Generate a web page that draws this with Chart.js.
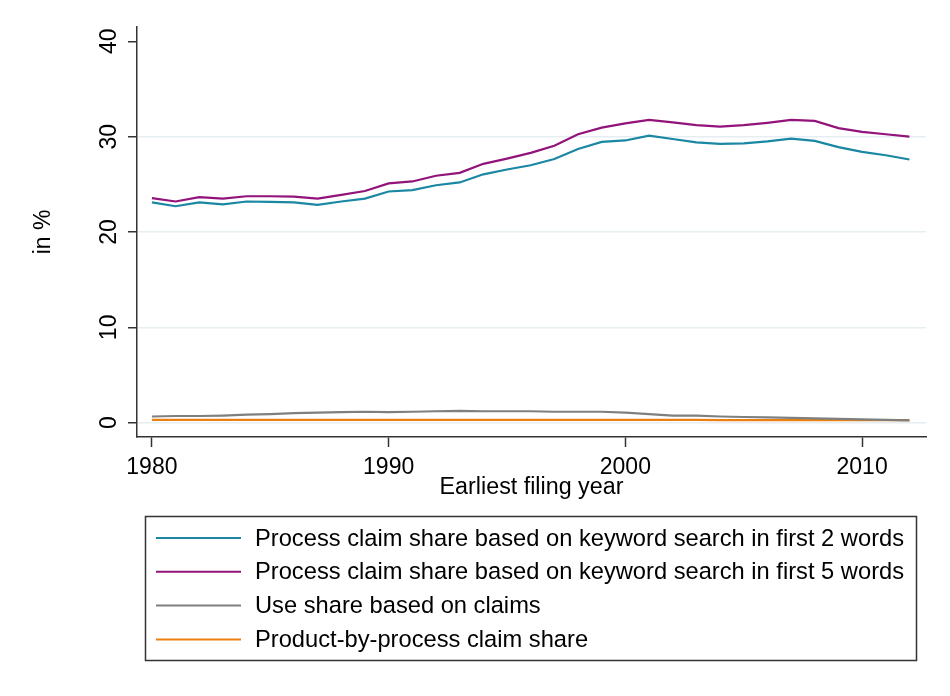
<!DOCTYPE html>
<html>
<head>
<meta charset="utf-8">
<script src="https://cdn.jsdelivr.net/npm/chart.js@4/dist/chart.umd.min.js"></script>
<style>
  html, body { margin: 0; padding: 0; background: #fff; }
  #wrap { width: 950px; height: 696px; }
</style>
</head>
<body>
<div id="wrap"><canvas id="chart" width="950" height="696"></canvas></div>
<script>
const years = [1980, 1981, 1982, 1983, 1984, 1985, 1986, 1987, 1988, 1989, 1990, 1991, 1992, 1993, 1994, 1995, 1996,
  1997, 1998, 1999, 2000, 2001, 2002, 2003, 2004, 2005, 2006, 2007, 2008, 2009, 2010, 2011, 2012];

const process2Words = [23.1, 22.7, 23.1, 22.9, 23.2, 23.15, 23.1, 22.85, 23.2, 23.5, 24.25, 24.4, 24.9, 25.2, 26.05, 26.55, 27.0,
  27.65, 28.7, 29.45, 29.6, 30.1, 29.75, 29.4, 29.25, 29.3, 29.5, 29.8, 29.55, 28.9, 28.4, 28.05, 27.6];
const process5Words = [23.55, 23.2, 23.65, 23.5, 23.75, 23.75, 23.7, 23.5, 23.9, 24.3, 25.1, 25.3, 25.9, 26.2, 27.15, 27.7, 28.3,
  29.05, 30.25, 30.95, 31.4, 31.75, 31.5, 31.2, 31.05, 31.2, 31.45, 31.75, 31.65, 30.9, 30.5, 30.25, 30.0];
const useShare = [0.65, 0.7, 0.7, 0.75, 0.85, 0.9, 1.0, 1.05, 1.1, 1.15, 1.1, 1.15, 1.2, 1.25, 1.2, 1.2, 1.2,
  1.15, 1.15, 1.15, 1.05, 0.9, 0.75, 0.75, 0.65, 0.6, 0.55, 0.5, 0.45, 0.4, 0.35, 0.3, 0.25];
const productByProcess = [0.3, 0.3, 0.3, 0.3, 0.3, 0.3, 0.3, 0.3, 0.3, 0.3, 0.3, 0.3, 0.3, 0.3, 0.3, 0.3, 0.3,
  0.3, 0.3, 0.3, 0.3, 0.3, 0.3, 0.3, 0.28, 0.28, 0.28, 0.28, 0.28, 0.28, 0.28, 0.28, 0.28];

const seriesLabels = [
  'Process claim share based on keyword search in first 2 words',
  'Process claim share based on keyword search in first 5 words',
  'Use share based on claims',
  'Product-by-process claim share',
];
const seriesColors = ['#1a87a3', '#92137a', '#7f7f7f', '#ea8010'];

const xTicks = [1980, 1990, 2000, 2010];
const yTicks = [0, 10, 20, 30, 40];

const FONT = 'Arial, "Liberation Sans", sans-serif';
const AXIS = '#333333';
const GRID = '#e6eef1';

const pts = (vals) => years.map((y, i) => ({ x: y, y: vals[i] }));

// y tick labels (rotated) and the boxed legend, Stata style
const stataExtras = {
  id: 'stataExtras',
  afterDraw(chart) {
    const ctx = chart.ctx;
    const ys = chart.scales.y;
    ctx.save();
    ctx.fillStyle = '#000';
    ctx.font = '23px ' + FONT;
    ctx.textAlign = 'center';
    ctx.textBaseline = 'middle';
    ys.ticks.forEach((t) => {
      const py = ys.getPixelForValue(t.value);
      ctx.save();
      ctx.translate(110, py);
      ctx.rotate(-Math.PI / 2);
      ctx.fillText(String(t.value), 0, 0);
      ctx.restore();
    });
    ctx.restore();

    // legend
    ctx.save();
    ctx.strokeStyle = AXIS;
    ctx.lineWidth = 1.5;
    ctx.strokeRect(145.5, 516.5, 771, 144);
    ctx.font = '23.7px ' + FONT;
    ctx.textBaseline = 'middle';
    ctx.textAlign = 'left';
    chart.data.datasets.forEach((ds, i) => {
      const ly = 538 + i * 33.8;
      ctx.strokeStyle = ds.borderColor;
      ctx.lineWidth = 2;
      ctx.beginPath();
      ctx.moveTo(156, ly);
      ctx.lineTo(241, ly);
      ctx.stroke();
      ctx.fillStyle = '#000';
      ctx.fillText(ds.label, 255, ly + 1);
    });
    ctx.restore();
  },
};

new Chart(document.getElementById('chart'), {
  type: 'line',
  data: {
    datasets: seriesLabels.map((label, i) => ({
      label,
      data: pts([process2Words, process5Words, useShare, productByProcess][i]),
      borderColor: seriesColors[i],
      backgroundColor: seriesColors[i],
      borderWidth: 2.2,
      pointRadius: 0,
      tension: 0,
      fill: false,
    })),
  },
  options: {
    responsive: false,
    animation: false,
    layout: { padding: { left: 0, right: 24, top: 27, bottom: 194 } },
    plugins: {
      legend: { display: false },
      tooltip: { enabled: false },
    },
    scales: {
      x: {
        type: 'linear',
        min: 1979.37,
        max: 2012.7,
        afterBuildTicks: (scale) => { scale.ticks = xTicks.map((v) => ({ value: v })); },
        afterFit: (scale) => { scale.height = 65; },
        border: { color: AXIS, width: 1.5 },
        grid: { drawOnChartArea: false, drawTicks: true, tickLength: 10, tickColor: AXIS, tickWidth: 1.5 },
        ticks: {
          color: '#000',
          font: { family: FONT, size: 23 },
          padding: 7,
          maxRotation: 0,
          callback: (v) => String(v),
        },
        title: {
          display: true,
          text: 'Earliest filing year',
          color: '#000',
          font: { family: FONT, size: 23.3 },
          padding: { top: 0, bottom: 0 },
        },
      },
      y: {
        min: -1.5,
        max: 41.5,
        afterBuildTicks: (scale) => { scale.ticks = yTicks.map((v) => ({ value: v })); },
        afterFit: (scale) => { scale.width = 137; },
        border: { color: AXIS, width: 1.5 },
        grid: {
          color: (c) => (c.tick && c.tick.value === 40 ? 'rgba(0,0,0,0)' : GRID),
          lineWidth: 1.5,
          drawTicks: true,
          tickLength: 9,
          tickColor: AXIS,
          tickWidth: 1.5,
        },
        ticks: { display: false },
        title: {
          display: true,
          text: 'in %',
          color: '#000',
          font: { family: FONT, size: 23 },
          padding: { top: 30, bottom: 0 },
        },
      },
    },
  },
  plugins: [stataExtras],
});
</script>
</body>
</html>
